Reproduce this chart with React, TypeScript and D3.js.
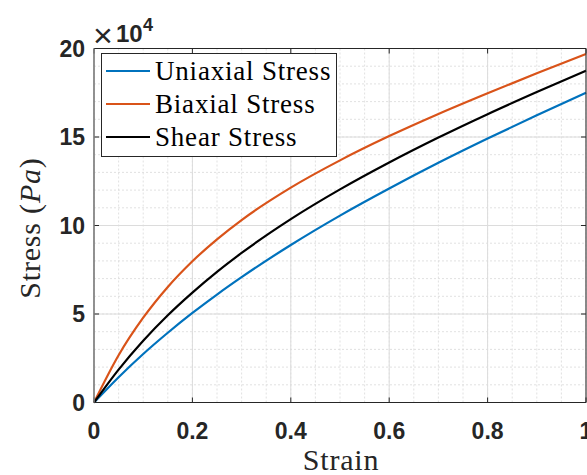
import React from "react";
import * as d3 from "d3";

// Nominal stress (Pa) versus engineering strain for three loading modes
const strain = [0, 0.05, 0.1, 0.15, 0.2, 0.25, 0.3, 0.4, 0.5, 0.6, 0.7, 0.8, 0.9, 1.0];
const uniaxialStress = [0, 14300, 27400, 39400, 50600, 61000, 70800, 89000, 105600, 120900, 135400, 149100, 162300, 175000];
const biaxialStress = [0, 26700, 47900, 65300, 79800, 92200, 103100, 121400, 136800, 150500, 163000, 174700, 186000, 196900];
const shearStress = [0, 18600, 34900, 49300, 62100, 73800, 84500, 103600, 120400, 135600, 149700, 162900, 175400, 187500];

const seriesNames = ["Uniaxial Stress", "Biaxial Stress", "Shear Stress"];
const seriesColors = ["#0072BD", "#D95319", "#000000"];
const seriesValues = [uniaxialStress, biaxialStress, shearStress];

const xTicks = [0, 0.2, 0.4, 0.6, 0.8, 1];
const xTickLabels = ["0", "0.2", "0.4", "0.6", "0.8", "1"];
const yTicks = [0, 50000, 100000, 150000, 200000];
const yTickLabels = ["0", "5", "10", "15", "20"];
const xMinorTicks = d3.range(0, 1.0001, 0.05);
const yMinorTicks = d3.range(0, 200001, 10000);

const W = 587;
const H = 475;
const plot = { left: 94, right: 586, top: 48.5, bottom: 402.5 };

const axisColor = "#262626";
const sansFont = "'Liberation Sans', Arial, sans-serif";
const serifFont = "'Liberation Serif', 'Times New Roman', serif";

export default function App() {
  const x = d3.scaleLinear().domain([0, 1]).range([plot.left, plot.right]);
  const y = d3.scaleLinear().domain([0, 200000]).range([plot.bottom, plot.top]);

  const line = d3
    .line<number>()
    .x((_, i) => x(strain[i]))
    .y((v) => y(v))
    .curve(d3.curveMonotoneX);

  const tickLen = 5;

  return (
    <svg
      width={W}
      height={H}
      style={{ position: "absolute", left: 0, top: 0, background: "#fff" }}
    >
      <rect x={0} y={0} width={W} height={H} fill="#fff" />

      {/* minor grid */}
      <g stroke="#d9d9d9" strokeWidth={0.8} strokeDasharray="2,2">
        {xMinorTicks.map((t, i) => (
          <line key={"xm" + i} x1={x(t)} x2={x(t)} y1={plot.top} y2={plot.bottom} />
        ))}
        {yMinorTicks.map((t, i) => (
          <line key={"ym" + i} x1={plot.left} x2={plot.right} y1={y(t)} y2={y(t)} />
        ))}
      </g>

      {/* major grid */}
      <g stroke="#dcdcdc" strokeWidth={1}>
        {xTicks.map((t, i) => (
          <line key={"xg" + i} x1={x(t)} x2={x(t)} y1={plot.top} y2={plot.bottom} />
        ))}
        {yTicks.map((t, i) => (
          <line key={"yg" + i} x1={plot.left} x2={plot.right} y1={y(t)} y2={y(t)} />
        ))}
      </g>

      {/* data curves */}
      {seriesValues.map((vals, i) => (
        <path
          key={"s" + i}
          d={line(vals) || ""}
          fill="none"
          stroke={seriesColors[i]}
          strokeWidth={2.2}
        />
      ))}

      {/* axes box and ticks */}
      <g stroke={axisColor} strokeWidth={1} fill="none">
        <line x1={plot.left} x2={plot.right} y1={plot.bottom} y2={plot.bottom} />
        <line x1={plot.left} x2={plot.right} y1={plot.top} y2={plot.top} />
        <line x1={plot.right} x2={plot.right} y1={plot.top} y2={plot.bottom} />
        {xTicks.map((t, i) => (
          <g key={"xt" + i}>
            <line x1={x(t)} x2={x(t)} y1={plot.bottom} y2={plot.bottom - tickLen} />
            <line x1={x(t)} x2={x(t)} y1={plot.top} y2={plot.top + tickLen} />
          </g>
        ))}
        {yTicks.map((t, i) => (
          <g key={"yt" + i}>
            <line x1={plot.left} x2={plot.left + tickLen} y1={y(t)} y2={y(t)} />
            <line x1={plot.right} x2={plot.right - tickLen} y1={y(t)} y2={y(t)} />
          </g>
        ))}
      </g>
      <line
        x1={plot.left}
        x2={plot.left}
        y1={plot.top}
        y2={plot.bottom}
        stroke="#7a7a7a"
        strokeWidth={1.6}
      />

      {/* tick labels */}
      <g fill={axisColor} fontFamily={sansFont} fontWeight="bold" fontSize={23}>
        {xTicks.map((t, i) => (
          <text key={"xl" + i} x={x(t)} y={439} textAnchor="middle">
            {xTickLabels[i]}
          </text>
        ))}
        {yTicks.map((t, i) => (
          <text key={"yl" + i} x={85} y={y(t) + 8} textAnchor="end">
            {yTickLabels[i]}
          </text>
        ))}
      </g>

      {/* exponent label */}
      <g fill={axisColor} fontFamily={sansFont}>
        <text x={93} y={47} fontSize={34}>
          ×
        </text>
        <text x={116} y={42} fontSize={24} fontWeight="bold">
          10
        </text>
        <text x={143} y={31} fontSize={18} fontWeight="bold">
          4
        </text>
      </g>

      {/* axis titles */}
      <text
        x={341}
        y={470}
        textAnchor="middle"
        fontFamily={serifFont}
        fontSize={30}
        letterSpacing={0.8}
        fill={axisColor}
      >
        Strain
      </text>
      <text
        transform={`translate(40, 228) rotate(-90)`}
        textAnchor="middle"
        fontFamily={serifFont}
        fontSize={30}
        letterSpacing={0.8}
        fill={axisColor}
      >
        Stress (<tspan fontStyle="italic">Pa</tspan>)
      </text>

      {/* legend */}
      <g>
        <rect
          x={101.5}
          y={53.5}
          width={235}
          height={103}
          fill="#fff"
          stroke={axisColor}
          strokeWidth={1}
        />
        {seriesNames.map((name, i) => {
          const cy = 71 + i * 33;
          return (
            <g key={"lg" + i}>
              <line x1={106} x2={150} y1={cy} y2={cy} stroke={seriesColors[i]} strokeWidth={2.2} />
              <text
                x={155}
                y={cy + 9}
                fontFamily={serifFont}
                fontSize={27}
                letterSpacing={0.8}
                fill="#000"
              >
                {name}
              </text>
            </g>
          );
        })}
      </g>
    </svg>
  );
}
